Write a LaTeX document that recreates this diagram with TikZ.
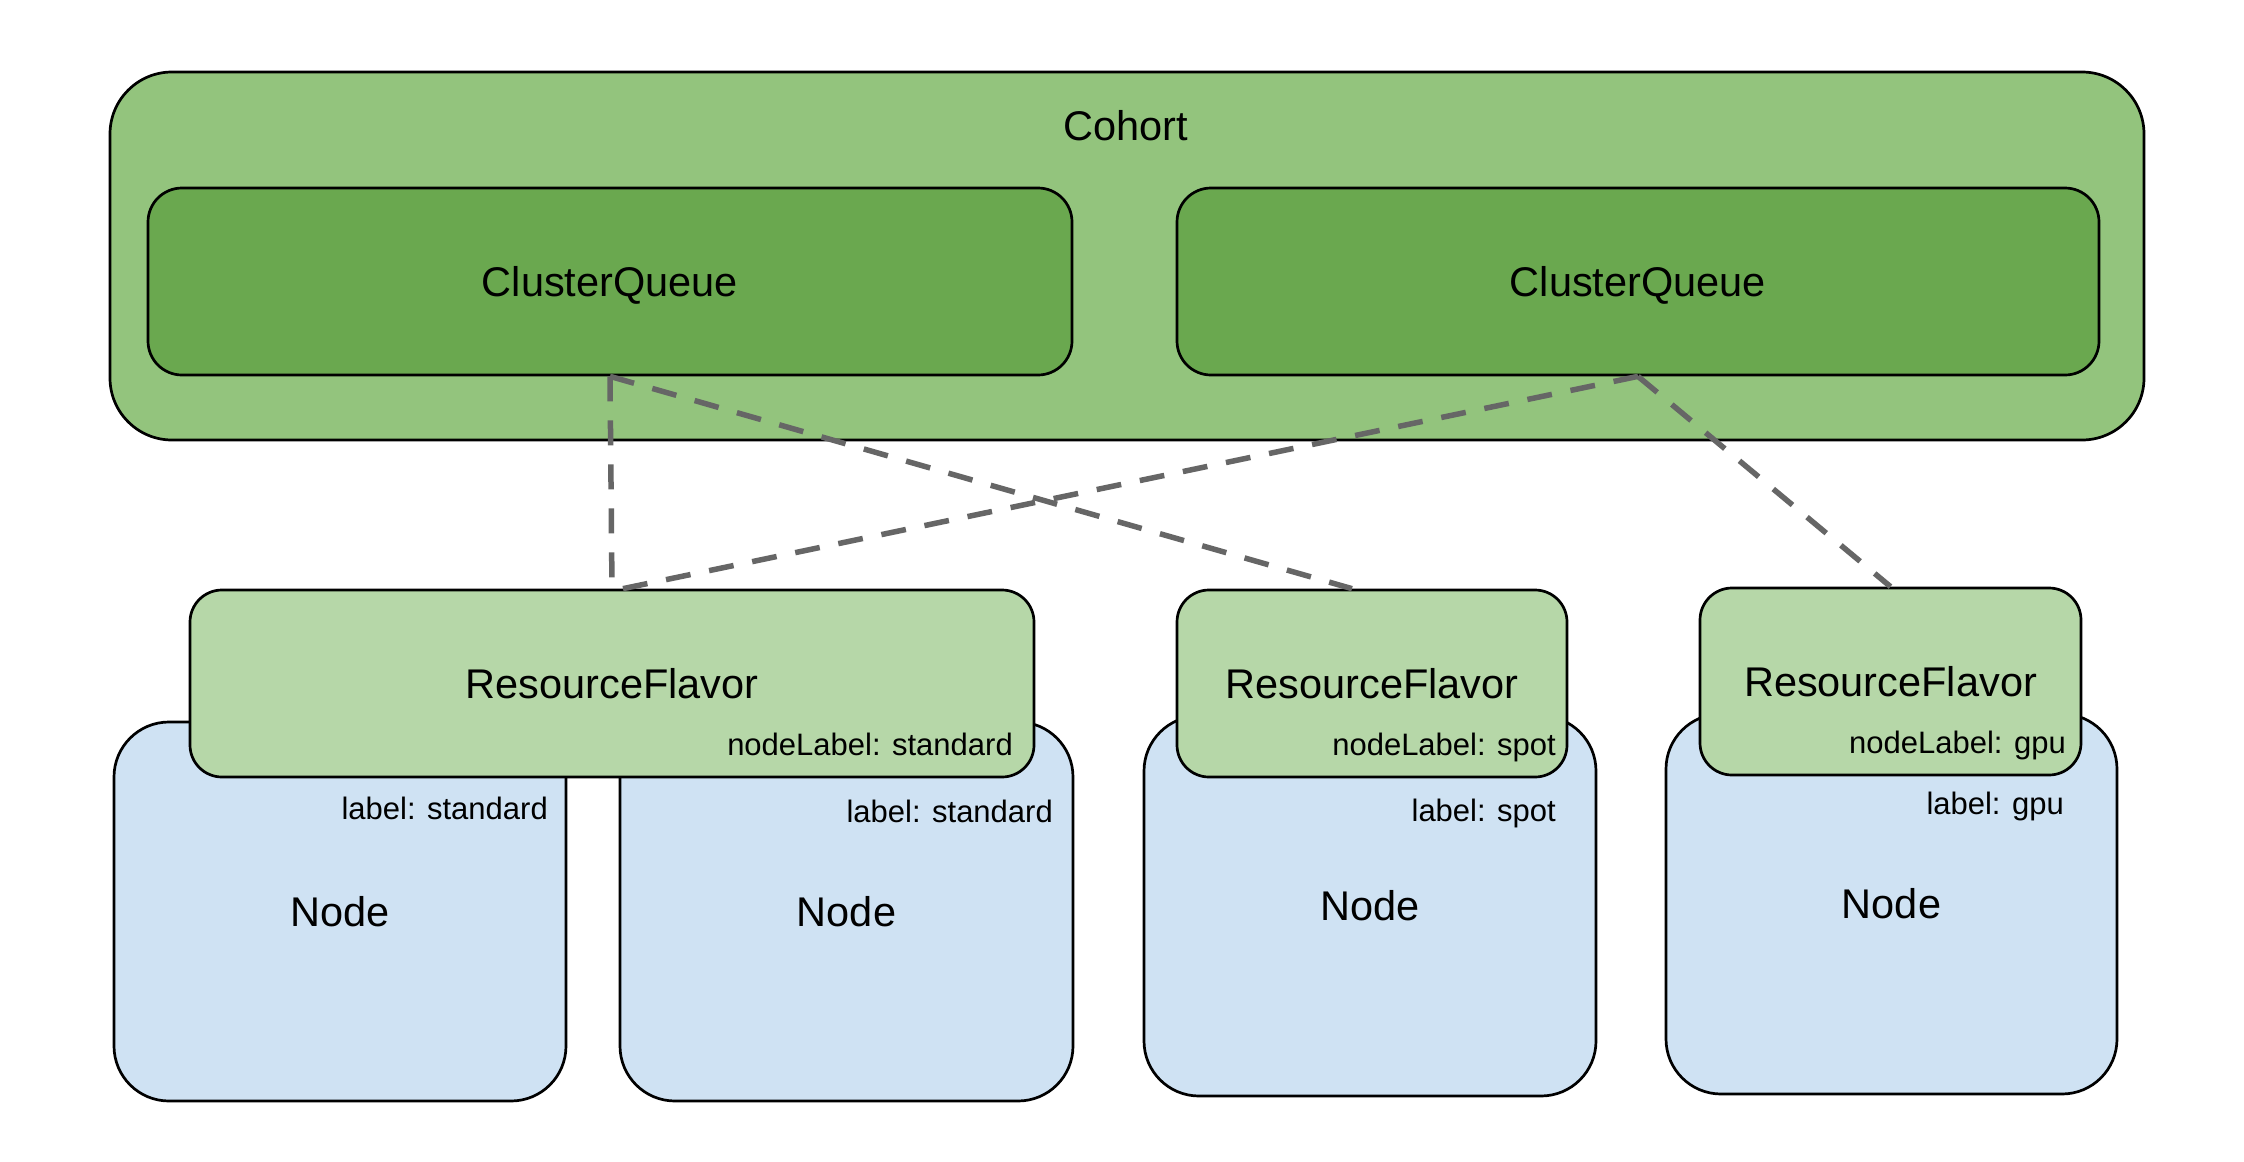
\documentclass[tikz,border=0pt]{standalone}
\usepackage{fontspec}
\setmainfont{Liberation Sans}
\usetikzlibrary{calc}
\definecolor{cohortfill}{HTML}{93C47D}
\definecolor{cqfill}{HTML}{6AA84F}
\definecolor{rffill}{HTML}{B6D7A8}
\definecolor{nodefill}{HTML}{CFE2F3}
\definecolor{linkgray}{HTML}{666666}
\begin{document}
\begin{tikzpicture}[x=1pt,y=-1pt,
  basebox/.style={draw=black, line width=2.7pt, rectangle, inner sep=0pt,
    font=\fontsize{41.5}{50}\selectfont},
  cohortbox/.style={basebox, fill=cohortfill, rounded corners=62pt},
  cqbox/.style={basebox, fill=cqfill, rounded corners=34pt, text depth=0pt},
  rfbox/.style={basebox, fill=rffill, rounded corners=32pt},
  nodebox/.style={basebox, fill=nodefill, rounded corners=55pt},
  bigtext/.style={inner sep=0pt, anchor=base, font=\fontsize{41.5}{50}\selectfont},
  smalltext/.style={inner sep=0pt, anchor=base east, font=\fontsize{31}{37}\selectfont},
  link/.style={draw=linkgray, line width=5.5pt, dash pattern=on 25pt off 19pt}
]
\fill[white] (0,0) rectangle (2244,1162);
\useasboundingbox (0,0) rectangle (2244,1162);

% Cohort
\node[cohortbox, minimum width=2034pt, minimum height=368pt] (cohort) at (1127,256) {};
\node[bigtext] (cohorttxt) at (1126,140) {Cohort};

% ClusterQueues
\node[cqbox, minimum width=924pt, minimum height=187pt] (CQ1) at (610,281.5) {ClusterQueue};
\node[cqbox, minimum width=922pt, minimum height=187pt] (CQ2) at (1638,281.5) {ClusterQueue};

% Kubernetes nodes
\node[nodebox, minimum width=452pt, minimum height=379pt] (N1) at (340,911.5) {Node};
\node[nodebox, minimum width=453pt, minimum height=379pt] (N2) at (846.5,911.5) {Node};
\node[nodebox, minimum width=452pt, minimum height=380pt] (N3) at (1370,906) {Node};
\node[nodebox, minimum width=451pt, minimum height=380pt] (N4) at (1891.5,904) {Node};

\node[smalltext] (N1lbl) at (548,819) {label: standard};
\node[smalltext] (N2lbl) at (1053,822) {label: standard};
\node[smalltext] (N3lbl) at (1556,821) {label: spot};
\node[smalltext] (N4lbl) at (2064,814) {label: gpu};

% ResourceFlavors
\node[rfbox, minimum width=844pt, minimum height=187pt] (RF1) at (612,683.5) {ResourceFlavor};
\node[rfbox, minimum width=390pt, minimum height=187pt] (RF2) at (1372,683.5) {ResourceFlavor};
\node[rfbox, minimum width=381pt, minimum height=187pt] (RF3) at (1890.5,681.5) {ResourceFlavor};

\node[smalltext] (RF1lbl) at (1013,755) {nodeLabel: standard};
\node[smalltext] (RF2lbl) at (1556,755) {nodeLabel: spot};
\node[smalltext] (RF3lbl) at (2066,753) {nodeLabel: gpu};

% connectors
\coordinate (RF1in) at ($(RF1.north)+(11,0)$);
\coordinate (RF2in) at ($(RF2.north)+(-20,0)$);
\draw[link] (CQ1.south) -- (RF1.north);
\draw[link] (CQ1.south) -- (RF2in);
\draw[link] (CQ2.south) -- (RF1in);
\draw[link] (CQ2.south) -- (RF3.north);
\end{tikzpicture}
\end{document}
